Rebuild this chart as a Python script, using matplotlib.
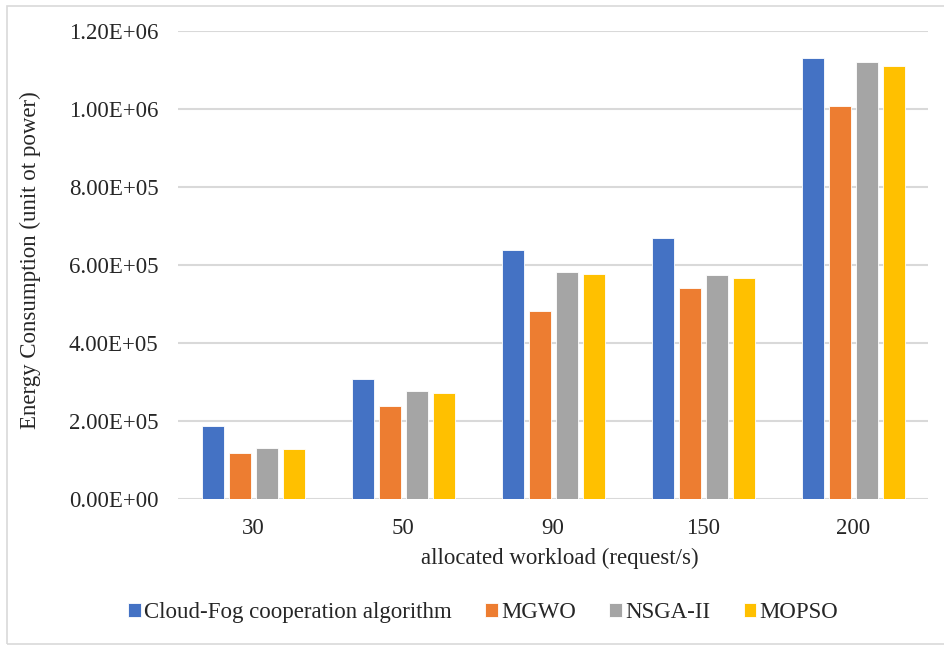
import numpy as np
import matplotlib.pyplot as plt
from matplotlib.ticker import FuncFormatter
from matplotlib.patches import Rectangle

workloads = ['30', '50', '90', '150', '200']
cloud_fog = [187000, 308000, 638000, 669000, 1131000]
mgwo = [118000, 238000, 482000, 541000, 1008000]
nsga2 = [131000, 277000, 582000, 574000, 1121000]
mopso = [128000, 272000, 577000, 567000, 1110000]

series = [
    ('Cloud-Fog cooperation algorithm', cloud_fog, '#4472C4'),
    ('MGWO', mgwo, '#ED7D31'),
    ('NSGA-II', nsga2, '#A5A5A5'),
    ('MOPSO', mopso, '#FFC000'),
]

plt.rcParams['font.family'] = ['Liberation Serif', 'DejaVu Serif']
fs = 16.5
txt = '#262626'

fig = plt.figure(figsize=(9.44, 6.45), dpi=100)
ax = fig.add_axes([0.1886, 0.2264, 0.7945, 0.7256])

# light frame round the whole chart
fig.patches.append(Rectangle((0.007, 0.002), 1.0, 0.989, transform=fig.transFigure,
                             fill=False, edgecolor='#D9D9D9', linewidth=1.2))

x = np.arange(len(workloads))
width = 0.147
step = 0.18
for i, (name, vals, col) in enumerate(series):
    ax.bar(x + (i - 1.5) * step, vals, width, color=col, label=name,
           edgecolor='white', linewidth=0.6, zorder=3)

ax.set_xlim(-0.5, 4.5)
ax.set_ylim(0, 1.2e6)
ax.set_yticks(np.arange(0, 1.21e6, 2e5))
ax.yaxis.set_major_formatter(FuncFormatter(lambda v, p: f'{v:.2E}'))
ax.set_xticks(x)
ax.set_xticklabels(workloads)
ax.grid(axis='y', color='#D9D9D9', linewidth=1.5, zorder=0)
for s in ['top', 'right', 'left', 'bottom']:
    ax.spines[s].set_visible(False)
ax.tick_params(axis='both', length=0, labelsize=fs, colors=txt)
ax.tick_params(axis='x', pad=14)
ax.tick_params(axis='y', pad=14)

ax.set_xlabel('allocated workload (request/s)', fontsize=fs, color=txt)
ax.set_ylabel('Energy Consumption (unit ot power)', fontsize=fs, color=txt)
ax.xaxis.set_label_coords(0.509, -0.128)
ax.yaxis.set_label_coords(-0.197, 0.51)
ax.xaxis.label.set_va('center')
ax.yaxis.label.set_va('center')

leg = fig.legend(loc='center', bbox_to_anchor=(0.512, 0.05), ncol=4, frameon=False,
                 fontsize=fs, handlelength=0.55, handleheight=0.55, handletextpad=0.15,
                 columnspacing=1.45)
for t in leg.get_texts():
    t.set_color(txt)

fig.savefig('out.png', dpi=100)
